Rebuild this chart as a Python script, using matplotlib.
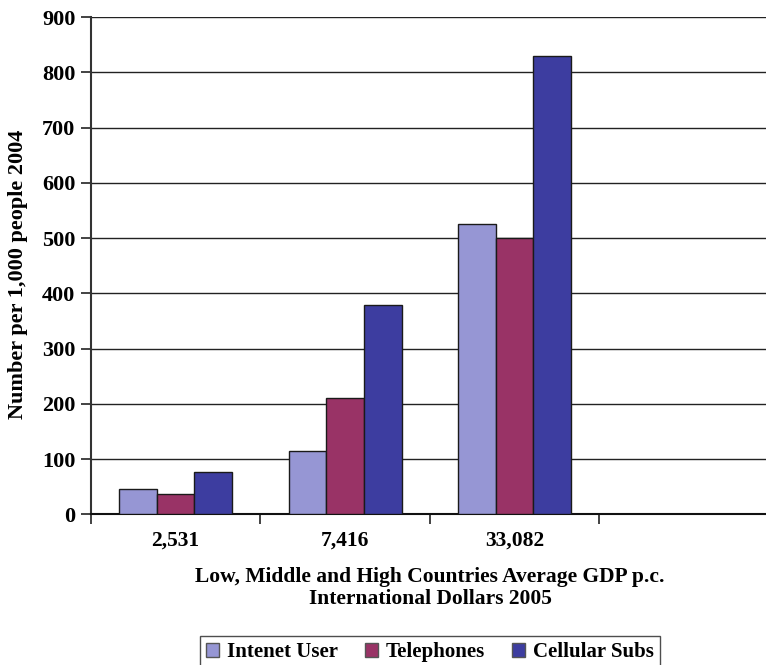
import matplotlib
matplotlib.use("Agg")
import matplotlib.pyplot as plt
import numpy as np

# Data: users / lines / subscriptions per 1,000 people, 2004
categories = ["2,531", "7,416", "33,082", ""]
internet_users = [45, 115, 525]
telephones = [37, 211, 500]
cellular_subs = [77, 379, 830]
series_names = ["Intenet User", "Telephones", "Cellular Subs"]
series_colors = ["#9696D4", "#993366", "#3D3DA0"]
y_ticks = [0, 100, 200, 300, 400, 500, 600, 700, 800, 900]

plt.rcParams["font.family"] = ["Liberation Serif", "DejaVu Serif"]
plt.rcParams["font.weight"] = "bold"

W, H = 766, 665
fig = plt.figure(figsize=(W / 100, H / 100), dpi=100)
ax = fig.add_axes([90.7 / W, 1 - 514.3 / H, (769 - 90.7) / W, (514.3 - 17) / H])

series = [internet_users, telephones, cellular_subs]
bar_w = 0.222
x = np.arange(len(internet_users))
for i, (vals, name, col) in enumerate(zip(series, series_names, series_colors)):
    ax.bar(x + (i - 1) * bar_w, vals, width=bar_w, color=col, edgecolor="#1a1a1a",
           linewidth=1.0, label=name, zorder=3)

ax.set_xlim(-0.5, len(categories) - 0.5)
ax.set_ylim(0, 900)
ax.set_yticks(y_ticks)
ax.set_yticklabels([str(t) for t in y_ticks], fontsize=16, fontweight="bold")
ax.yaxis.grid(True, color="#222222", linewidth=1.0, zorder=0)
ax.set_axisbelow(True)

# category labels at centres, tick marks between categories
ax.set_xticks(np.arange(len(categories)))
ax.set_xticklabels(categories, fontsize=15.5, fontweight="bold")
ax.tick_params(axis="x", which="major", length=0, pad=12)
ax.set_xticks(np.arange(len(categories) + 1) - 0.5, minor=True)
ax.tick_params(axis="x", which="minor", length=7, width=1.2, color="#222222")
ax.tick_params(axis="y", length=7, width=1.2, color="#222222", pad=4)

for s in ["top", "right"]:
    ax.spines[s].set_visible(False)
ax.spines["left"].set_color("#333333")
ax.spines["left"].set_linewidth(1.5)
ax.spines["bottom"].set_color("#111111")
ax.spines["bottom"].set_linewidth(1.5)

ax.set_ylabel("Number per 1,000 people 2004", fontsize=16, fontweight="bold")
ax.yaxis.set_label_coords(-0.093, 0.483)
fig.text(430 / W, 1 - 588 / H, "Low, Middle and High Countries Average GDP p.c.\nInternational Dollars 2005",
         ha="center", va="center", fontsize=15.5, fontweight="bold", linespacing=1.15)

leg = fig.legend(loc="upper center", bbox_to_anchor=(430 / W, 1 - 636 / H), ncol=3,
                 frameon=True, fancybox=False, edgecolor="#222222",
                 handlelength=0.6, handleheight=0.6, handletextpad=0.4, columnspacing=1.3,
                 borderpad=0.3, borderaxespad=0.0, prop={"weight": "bold", "size": 15})
leg.get_frame().set_linewidth(1.0)
for h in leg.legend_handles:
    h.set_edgecolor("#555555")

fig.savefig("out.png", dpi=100)
